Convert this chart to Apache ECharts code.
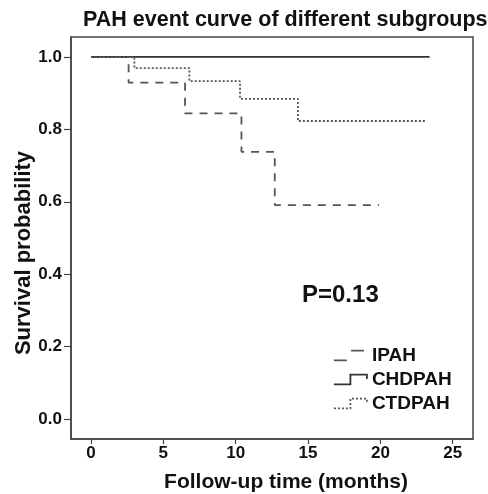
<!DOCTYPE html>
<html>
<head>
<meta charset="utf-8">
<script src="https://cdn.jsdelivr.net/npm/echarts@6/dist/echarts.min.js"></script>
<style>
html,body{margin:0;padding:0;background:#fff;}
#chart{width:488px;height:494px;}
</style>
</head>
<body>
<div id="chart"></div>
<script>
const seriesNames = ['IPAH', 'CHDPAH', 'CTDPAH'];
const ipahTimes = [0, 2.6, 6.5, 10.4, 12.7, 19.9];
const ipahSurv  = [1.0, 0.929, 0.844, 0.738, 0.591, 0.591];
const chdTimes  = [0, 23.4];
const chdSurv   = [1.0, 1.0];
const ctdTimes  = [0, 3.0, 6.8, 10.3, 14.3, 23.1];
const ctdSurv   = [1.0, 0.969, 0.933, 0.884, 0.823, 0.823];
const xTicks = [0, 5, 10, 15, 20, 25];
const yTicks = [0, 0.2, 0.4, 0.6, 0.8, 1.0];
const titleText = 'PAH event curve of different subgroups';
const pText = 'P=0.13';

function pairs(t, s) { return t.map((v, i) => [v, s[i]]); }

const FONT = 'Liberation Sans, Arial, sans-serif';
const chart = echarts.init(document.getElementById('chart'), null, {renderer: 'canvas'});
chart.setOption({
  animation: false,
  backgroundColor: '#fff',
  title: [
    {text: titleText, left: 83, top: 9, padding: 0,
     textStyle: {fontFamily: FONT, fontWeight: 'bold', fontSize: 21.5, color: '#111'}},
    {text: pText, left: 302, top: 283, padding: 0,
     textStyle: {fontFamily: FONT, fontWeight: 'bold', fontSize: 24, color: '#111'}}
  ],
  grid: {left: 71, right: 15, top: 37, bottom: 55, show: true, borderColor: '#444', borderWidth: 1.5,
         containLabel: false, outerBoundsMode: 'none'},
  legend: {
    orient: 'vertical', left: 333, top: 346, padding: 0, itemWidth: 33, itemHeight: 12, itemGap: 5,
    textStyle: {fontFamily: FONT, fontWeight: 'bold', fontSize: 19, color: '#111'},
    data: [
      {name: seriesNames[0], icon: 'path://M0,10 L14,10 L14,1 L30,1',
       itemStyle: {color: 'transparent', borderColor: '#555', borderWidth: 1.8, borderType: [13, 14]}},
      {name: seriesNames[1], icon: 'path://M0,10 L15,10 L15,1 L30,1 L30,5',
       itemStyle: {color: 'transparent', borderColor: '#333', borderWidth: 1.8, borderType: 'solid'}},
      {name: seriesNames[2], icon: 'path://M0,10 L15,10 L15,1 L30,1 L30,5',
       itemStyle: {color: 'transparent', borderColor: '#555', borderWidth: 1.8, borderType: [2, 2]}}
    ]
  },
  xAxis: {
    type: 'value', min: -1.38, max: 26.4,
    name: 'Follow-up time (months)', nameLocation: 'middle', nameGap: 33,
    nameTextStyle: {fontFamily: FONT, fontWeight: 'bold', fontSize: 21, color: '#111', padding: [0, 0, 0, 28]},
    axisLine: {onZero: false, lineStyle: {color: '#444', width: 1.5}},
    axisTick: {customValues: xTicks, length: 5, lineStyle: {color: '#444', width: 1.2}},
    axisLabel: {customValues: xTicks, margin: 6, fontFamily: FONT, fontWeight: 'bold', fontSize: 17, color: '#111',
      formatter: v => String(v)},
    splitLine: {show: false}
  },
  yAxis: {
    type: 'value', min: -0.055, max: 1.055,
    name: 'Survival probability', nameLocation: 'middle', nameGap: 36, nameMoveOverlap: false,
    nameTextStyle: {fontFamily: FONT, fontWeight: 'bold', fontSize: 22, color: '#111', padding: [0, 30, 0, 0]},
    axisLine: {onZero: false, lineStyle: {color: '#444', width: 1.5}},
    axisTick: {customValues: yTicks, length: 7, lineStyle: {color: '#444', width: 1.2}},
    axisLabel: {customValues: yTicks, margin: 9, fontFamily: FONT, fontWeight: 'bold', fontSize: 17, color: '#111',
      formatter: v => v.toFixed(1)},
    splitLine: {show: false}
  },
  series: [
    {name: seriesNames[0], type: 'line', step: 'end', symbol: 'none', data: pairs(ipahTimes, ipahSurv),
     itemStyle: {color: '#555'}, lineStyle: {color: '#555', width: 1.8, type: [8, 7]}},
    {name: seriesNames[1], type: 'line', step: 'end', symbol: 'none', data: pairs(chdTimes, chdSurv),
     itemStyle: {color: '#333'}, lineStyle: {color: '#333', width: 1.6, type: 'solid'}},
    {name: seriesNames[2], type: 'line', step: 'end', symbol: 'none', data: pairs(ctdTimes, ctdSurv),
     itemStyle: {color: '#555'}, lineStyle: {color: '#555', width: 1.8, type: [2, 2]}}
  ]
});
</script>
</body>
</html>
